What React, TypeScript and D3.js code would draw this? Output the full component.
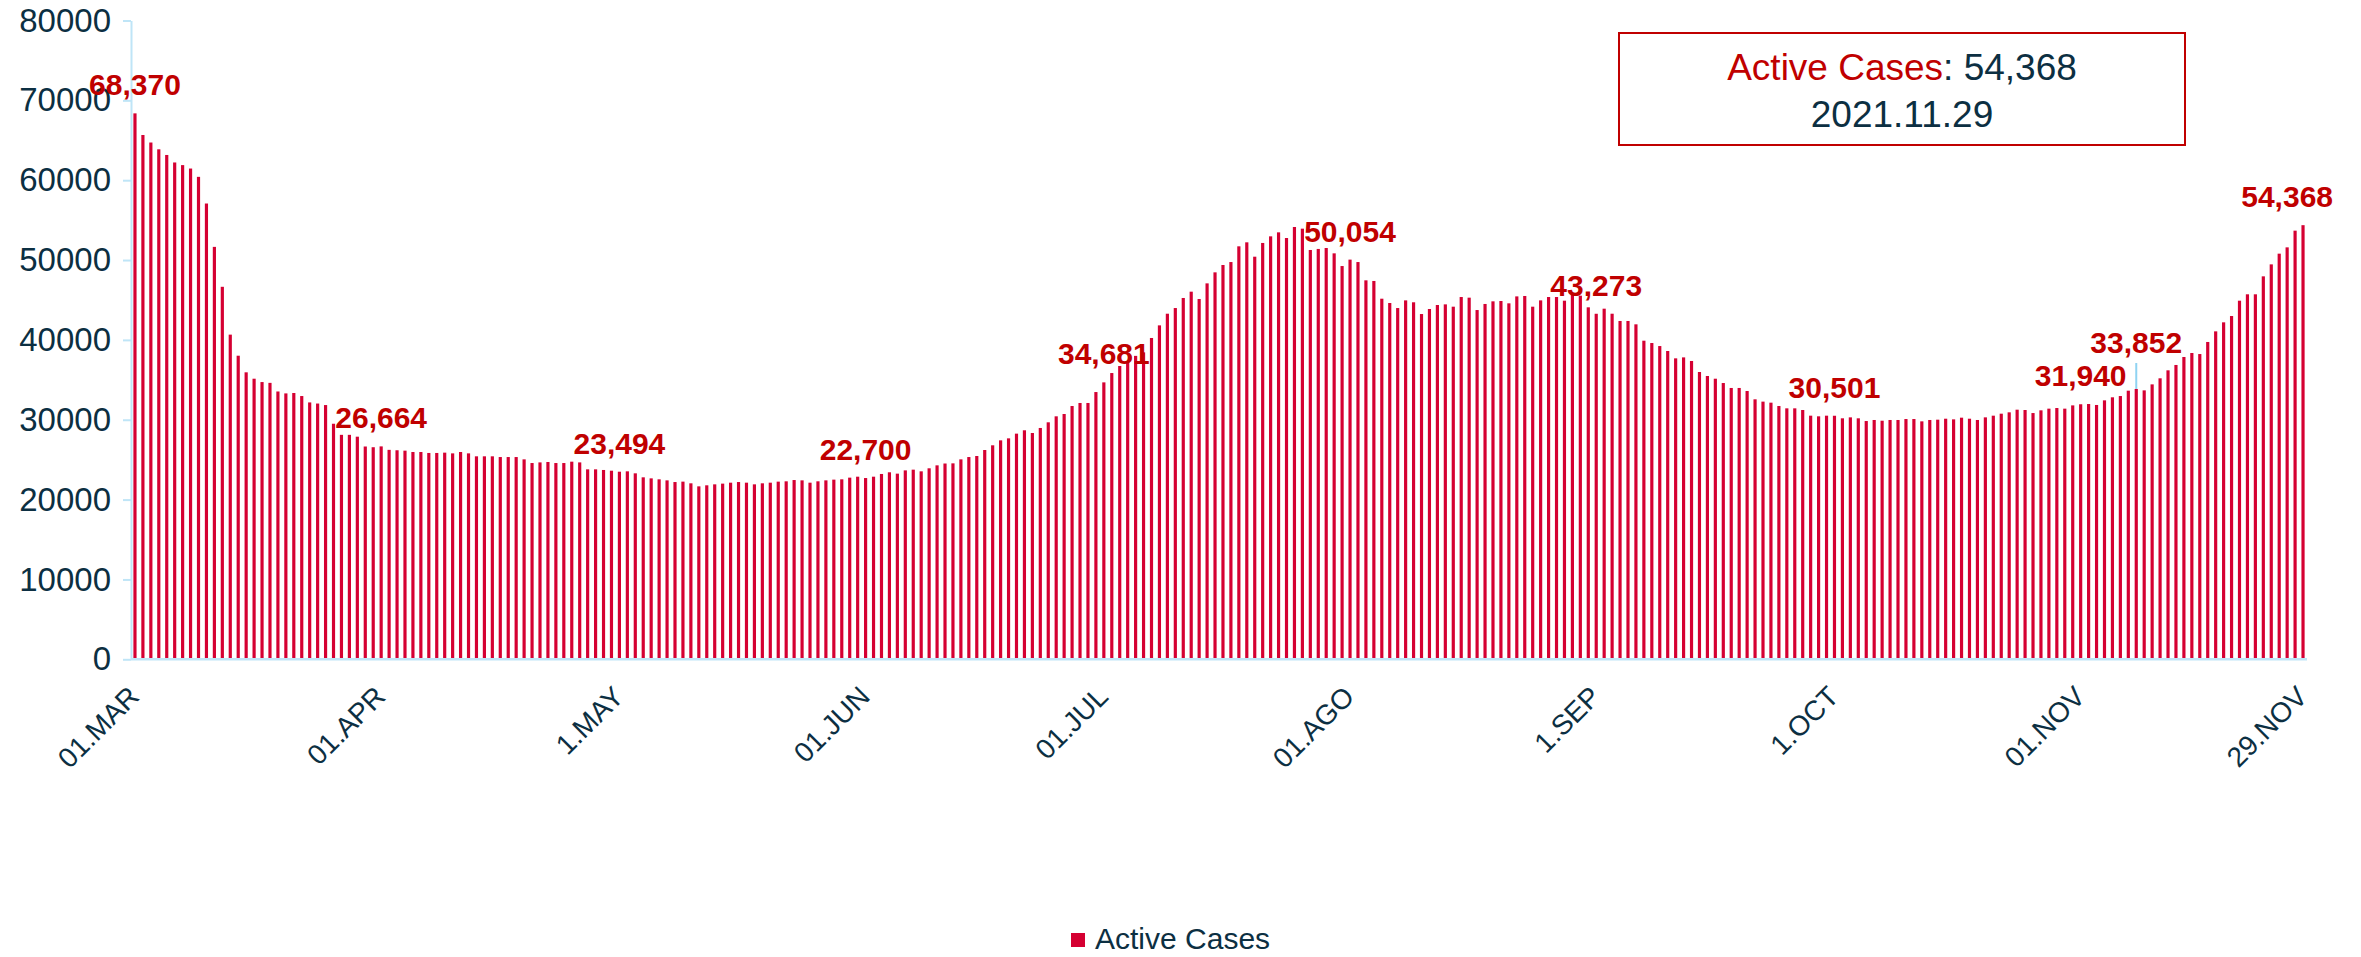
import React, { useEffect, useRef } from 'react'
import * as d3 from 'd3'

const width = 2361
const height = 957
const margin = { top: 20.5, right: 54, bottom: 297.7, left: 131 }

// active cases per day, one array per month (2021)
const mar = [68370, 65660, 64720, 63870, 63160, 62220, 61890, 61460, 60420, 57080,
  51650, 46650, 40660, 38020, 35940, 35140, 34720, 34620, 33540, 33300,
  33350, 32970, 32170, 32030, 31840, 29500, 28110, 28110, 27880, 26650, 26560]
const apr = [26664, 26230, 26180, 26130, 25960, 25960, 25840, 25840, 25880, 25790,
  25960, 25790, 25420, 25420, 25420, 25330, 25330, 25330, 25040, 24580,
  24660, 24710, 24580, 24580, 24750, 24660, 23790, 23790, 23710, 23620]
const may = [23494, 23540, 23290, 22790, 22660, 22540, 22410, 22200, 22250, 22040,
  21660, 21790, 21910, 22000, 22120, 22200, 22120, 21910, 22040, 22120,
  22250, 22290, 22450, 22410, 22120, 22290, 22410, 22500, 22540, 22750, 22870]
const jun = [22700, 22870, 23210, 23420, 23250, 23660, 23750, 23540, 23920, 24290,
  24520, 24540, 25040, 25330, 25460, 26210, 26800, 27420, 27670, 28260,
  28680, 28340, 28970, 29680, 30430, 30720, 31720, 32100, 32100, 33470]
const jul = [34681, 35850, 36730, 37300, 38000, 38440, 40240, 41820, 43280, 43990,
  45250, 46040, 45120, 47080, 48460, 49380, 49750, 51720, 52220, 50420,
  52140, 52970, 53470, 52760, 54140, 53930, 51260, 51390, 51510, 50840, 49250]
const ago = [50054, 49750, 47460, 47380, 45160, 44620, 43990, 44950, 44710, 43240,
  43870, 44370, 44450, 44160, 45370, 45290, 43740, 44500, 44830, 44870,
  44580, 45450, 45500, 44160, 44950, 45370, 45370, 44910, 45660, 45540, 44080]
const sep = [43273, 43910, 43280, 42370, 42370, 41950, 39900, 39610, 39230, 38610,
  37690, 37810, 37360, 35980, 35480, 35140, 34600, 33980, 33980, 33600,
  32560, 32270, 32140, 31720, 31430, 31430, 31220, 30510, 30430, 30510]
const oct = [30501, 30180, 30300, 30180, 29840, 29970, 29880, 29970, 29970, 30090,
  30090, 29800, 29970, 30010, 30130, 30050, 30260, 30130, 29970, 30300,
  30510, 30760, 30930, 31260, 31220, 30840, 31180, 31390, 31470, 31390, 31800]
const nov = [31940, 31970, 31850, 32430, 32810, 32970, 33640, 33852, 33680, 34430,
  35190, 36190, 36860, 37860, 38360, 38230, 39740, 41070, 42200, 42990,
  44910, 45710, 45710, 47960, 49460, 50800, 51590, 53680, 54368]

const tickDays = ['2021-03-01', '2021-04-01', '2021-05-01', '2021-06-01', '2021-07-01',
  '2021-08-01', '2021-09-01', '2021-10-01', '2021-11-01', '2021-11-29']
const tickLabels = ['01.MAR', '01.APR', '1.MAY', '01.JUN', '01.JUL',
  '01.AGO', '1.SEP', '1.OCT', '01.NOV', '29.NOV']
const labelDays = ['2021-03-01', '2021-04-01', '2021-05-01', '2021-06-01', '2021-07-01',
  '2021-08-01', '2021-09-01', '2021-10-01', '2021-11-01', '2021-11-08', '2021-11-29']
const raisedDay = '2021-11-08'
const lastDay = '2021-11-29'

const barColor = '#d50032'
const labelColor = '#c00000'
const textColor = '#0c2f42'
const axisColor = '#bfe5f7'
const font = "Arial, 'Liberation Sans', sans-serif"

const values = [mar, apr, may, jun, jul, ago, sep, oct, nov].flat()
const keyFmt = d3.timeFormat('%Y-%m-%d')
const days = d3.timeDay.range(new Date(2021, 2, 1), new Date(2021, 10, 30)).map(keyFmt)
const data = days.map((d, i) => ({ day: d, value: values[i] }))

const App = () => {
  const yAxis = useRef(null)

  const x = d3.scaleBand()
    .domain(days)
    .range([margin.left, width - margin.right])
    .paddingInner(0.6)
    .paddingOuter(0.3)

  const y = d3.scaleLinear()
    .domain([0, 80000])
    .range([height - margin.bottom, margin.top])

  const cx = (d) => x(d) + x.bandwidth() / 2
  const y0 = y(0)
  const byDay = new Map(data.map(d => [d.day, d.value]))
  const last = data[data.length - 1]

  useEffect(() => {
    const axis = d3.axisLeft(y)
      .tickValues(d3.range(0, 80001, 10000))
      .tickFormat(d3.format('d'))
      .tickSize(8)
      .tickSizeOuter(0)
      .tickPadding(12)
    const g = d3.select(yAxis.current)
    g.call(axis)
    g.select('.domain').attr('stroke', axisColor).attr('stroke-width', 2)
    g.selectAll('.tick line').attr('stroke', axisColor).attr('stroke-width', 2)
    g.selectAll('.tick text')
      .attr('fill', textColor)
      .attr('font-size', 33)
      .attr('font-family', font)
  }, [])

  return (
    <div style={{ position: 'absolute', left: 0, top: 0 }}>
      <svg width={width} height={height} style={{ display: 'block', background: '#fff' }} fontFamily={font}>
        {data.map(d => (
          <rect key={d.day} x={x(d.day)} width={x.bandwidth()} y={y(d.value)}
            height={y0 - y(d.value)} fill={barColor} />
        ))}
        <line x1={margin.left} x2={width - margin.right} y1={y0} y2={y0} stroke={axisColor} strokeWidth={2.5} />
        <g ref={yAxis} transform={`translate(${margin.left}, 0)`}></g>

        {tickDays.map((d, i) => (
          <text key={d} transform={`translate(${cx(d) - 1}, ${y0 + 32}) rotate(-45)`}
            textAnchor="end" dy="0.35em" fontSize={28} fill={textColor}>{tickLabels[i]}</text>
        ))}

        {labelDays.map(d => {
          const v = byDay.get(d)
          const top = y(v)
          const raised = d === raisedDay
          const isLast = d === lastDay
          return (
            <g key={d}>
              {raised && <line x1={cx(d)} x2={cx(d)} y1={top - 26} y2={top} stroke="#8fd3f2" strokeWidth={2} />}
              <text x={isLast ? cx(d) + 30 : cx(d)} y={top - (raised ? 36 : 18)}
                textAnchor={isLast ? 'end' : 'middle'} fontSize={30} fontWeight="bold"
                fill={labelColor}>{d3.format(',')(v)}</text>
            </g>
          )
        })}

        <rect x={1619} y={33} width={566} height={112} fill="#fff" stroke={labelColor} strokeWidth={2} />
        <text x={1902} y={80} textAnchor="middle" fontSize={37}>
          <tspan fill={labelColor}>Active Cases</tspan>
          <tspan fill={textColor}>: {d3.format(',')(last.value)}</tspan>
        </text>
        <text x={1902} y={126.5} textAnchor="middle" fontSize={37} fill={textColor}>
          {d3.timeFormat('%Y.%m.%d')(d3.timeParse('%Y-%m-%d')(last.day))}
        </text>

        <rect x={1071} y={933} width={14} height={14} fill={barColor} />
        <text x={1095} y={938} dy="0.35em" fontSize={30} fill={textColor}>Active Cases</text>
      </svg>
    </div>
  )
}

export default App
